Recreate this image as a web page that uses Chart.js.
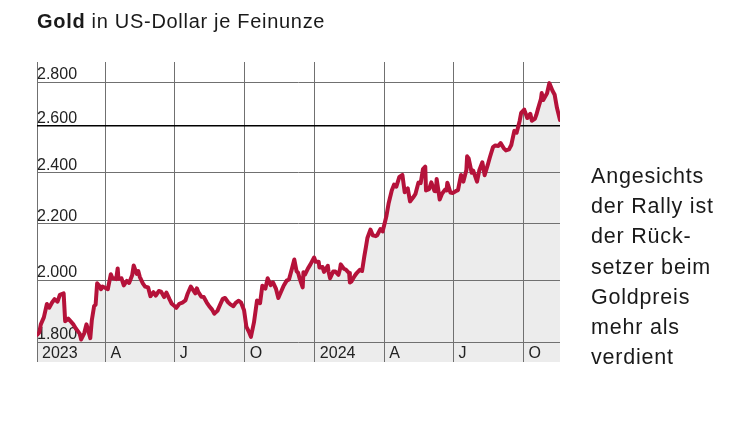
<!DOCTYPE html>
<html><head><meta charset="utf-8">
<script src="https://cdn.jsdelivr.net/npm/chart.js@4.4.1/dist/chart.umd.min.js"></script>
<style>
html,body{margin:0;padding:0;background:#fff;}
body{width:750px;height:421px;position:relative;overflow:hidden;font-family:"Liberation Sans",Arial,sans-serif;color:#1a1a1a;}
#wrap{position:absolute;left:0;top:0;width:750px;height:421px;}
#title{position:absolute;left:37px;top:9px;font-size:20px;line-height:24px;letter-spacing:0.7px;white-space:nowrap;}
#note{position:absolute;left:591px;top:161px;font-size:21.5px;line-height:30.2px;letter-spacing:0.8px;white-space:nowrap;}
</style></head><body>
<div id="wrap"><canvas id="c" width="750" height="421"></canvas></div>
<div id="title"><b>Gold</b> in US-Dollar je Feinunze</div>
<div id="note">Angesichts<br>der Rally ist<br>der Rück-<br>setzer beim<br>Goldpreis<br>mehr als<br>verdient</div>
<script>
const dates = [
'2023-01-01','2023-01-04','2023-01-06','2023-01-08','2023-01-10','2023-01-14','2023-01-17','2023-01-21','2023-01-24','2023-01-28','2023-01-31',
'2023-02-05','2023-02-07','2023-02-11','2023-02-14','2023-02-18','2023-02-21','2023-02-26','2023-02-28','2023-03-04',
'2023-03-07','2023-03-12','2023-03-14','2023-03-17','2023-03-19','2023-03-21','2023-03-24','2023-03-26','2023-03-28','2023-04-01','2023-04-04',
'2023-04-08','2023-04-10','2023-04-15','2023-04-17','2023-04-18','2023-04-22','2023-04-25','2023-04-29','2023-05-02',
'2023-05-06','2023-05-08','2023-05-12','2023-05-14','2023-05-16','2023-05-20','2023-05-23','2023-05-27','2023-05-30','2023-06-03',
'2023-06-06','2023-06-10','2023-06-13','2023-06-17','2023-06-20','2023-06-24','2023-06-27','2023-07-01','2023-07-03',
'2023-07-07','2023-07-11','2023-07-15','2023-07-18','2023-07-22','2023-07-24','2023-07-28','2023-07-30','2023-08-01',
'2023-08-05','2023-08-08','2023-08-12','2023-08-15','2023-08-19','2023-08-22','2023-08-26','2023-08-29','2023-09-02',
'2023-09-05','2023-09-09','2023-09-12','2023-09-16','2023-09-19','2023-09-23','2023-09-26','2023-09-30','2023-10-03',
'2023-10-07','2023-10-09','2023-10-13','2023-10-17','2023-10-21','2023-10-24','2023-10-28','2023-10-31','2023-11-04',
'2023-11-07','2023-11-11','2023-11-14','2023-11-18','2023-11-21','2023-11-25','2023-11-28','2023-12-02',
'2023-12-05','2023-12-08','2023-12-10','2023-12-12','2023-12-16','2023-12-17','2023-12-19','2023-12-23','2023-12-26','2023-12-31',
'2024-01-02','2024-01-06','2024-01-07','2024-01-11','2024-01-13','2024-01-14','2024-01-18','2024-01-19','2024-01-21','2024-01-25','2024-01-28',
'2024-02-01','2024-02-03','2024-02-04','2024-02-08','2024-02-11','2024-02-15','2024-02-16','2024-02-18','2024-02-22','2024-02-25','2024-02-29',
'2024-03-03','2024-03-06','2024-03-08','2024-03-10','2024-03-14','2024-03-17','2024-03-21','2024-03-23','2024-03-27','2024-03-30',
'2024-04-04','2024-04-07','2024-04-11','2024-04-14','2024-04-17','2024-04-21','2024-04-25','2024-04-28','2024-05-02',
'2024-05-05','2024-05-09','2024-05-12','2024-05-16','2024-05-19','2024-05-22','2024-05-25','2024-05-26','2024-05-30','2024-06-02',
'2024-06-06','2024-06-08','2024-06-09','2024-06-13','2024-06-16','2024-06-20','2024-06-22','2024-06-23','2024-06-27','2024-06-30',
'2024-07-04','2024-07-07','2024-07-11','2024-07-14','2024-07-18','2024-07-19','2024-07-21','2024-07-25','2024-07-27','2024-08-01',
'2024-08-04','2024-08-08','2024-08-11','2024-08-15','2024-08-18','2024-08-22','2024-08-25','2024-08-29','2024-09-01',
'2024-09-05','2024-09-08','2024-09-12','2024-09-15','2024-09-19','2024-09-22','2024-09-26','2024-09-28','2024-10-02',
'2024-10-06','2024-10-10','2024-10-12','2024-10-16','2024-10-18','2024-10-20','2024-10-24','2024-10-25','2024-10-27','2024-11-01',
'2024-11-04','2024-11-08','2024-11-11','2024-11-14','2024-11-18'
];
const prices = [
1822,1830,1855,1866,1877,1920,1908,1926,1936,1928,1950,
1955,1865,1873,1865,1854,1842,1826,1808,1827,
1855,1812,1868,1913,1918,1989,1980,1969,1978,1973,1969,
2020,2007,2003,2040,2004,2006,1982,1997,1990,
2016,2050,2021,2031,2011,1989,1978,1975,1946,1959,
1948,1963,1961,1943,1958,1936,1921,1913,1908,
1921,1925,1932,1955,1978,1970,1955,1972,1959,
1944,1943,1925,1914,1902,1889,1898,1915,1937,
1940,1926,1919,1913,1924,1931,1925,1900,1848,
1828,1816,1861,1932,1923,1981,1971,2006,1983,
1992,1970,1940,1963,1981,1998,2002,2040,
2071,2030,2025,2005,1975,2027,2019,2040,2053,2078,2063,
2063,2043,2045,2028,2028,2049,2028,2006,2029,2029,2018,
2037,2054,2039,2035,2024,1992,1995,2013,2024,2035,2031,
2083,2114,2148,2179,2158,2155,2159,2181,2172,2230,
2280,2329,2352,2344,2383,2391,2322,2337,2286,
2301,2314,2360,2358,2415,2425,2329,2334,2361,2327,
2326,2375,2293,2316,2332,2329,2360,2321,2319,2326,
2330,2391,2364,2411,2468,2459,2400,2409,2364,2410,
2443,2390,2431,2465,2507,2514,2512,2524,2503,
2493,2497,2516,2577,2569,2621,2657,2672,2634,
2653,2622,2630,2649,2674,2721,2748,2716,2747,2795,
2760,2740,2680,2625,2600
];
const tickDates = ['2023-01-01','2023-04-01','2023-07-01','2023-10-01','2024-01-01','2024-04-01','2024-07-01','2024-10-01'];
const tickLabels = ['2023','A','J','O','2024','A','J','O'];
const yTicks = [1800,2000,2200,2400,2600,2800];

const origin = Date.UTC(2023,0,1);
const dayOf = s => { const [y,m,d] = s.split('-').map(Number); return Math.round((Date.UTC(y,m-1,d)-origin)/86400000); };
const points = dates.map((d,i)=>({x:dayOf(d), y:prices[i]}));
const tickDays = tickDates.map(dayOf);
const fmt = v => String(v).replace(/\B(?=(\d{3})+(?!\d))/g,'.');
const FONT = '"Liberation Sans", Arial, sans-serif';
const GRID = '#707070';

new Chart(document.getElementById('c'), {
  type:'line',
  data:{datasets:[{data:points, borderColor:'#b5123a', borderWidth:4, pointRadius:0,
    fill:'start', backgroundColor:'#ececec', tension:0, borderJoinStyle:'round', borderCapStyle:'round'}]},
  options:{
    responsive:false, animation:false, devicePixelRatio:1,
    layout:{padding:{left:37, right:190, top:62, bottom:59}},
    plugins:{legend:{display:false}, tooltip:{enabled:false}, filler:{drawTime:'beforeDraw'}},
    scales:{
      x:{type:'linear', min:0, max:dayOf('2024-11-18'),
        border:{display:false},
        grid:{color:GRID, lineWidth:1, drawTicks:false},
        ticks:{autoSkip:false, maxRotation:0, minRotation:0, mirror:true, align:'start', labelOffset:5, padding:0,
          font:{family:FONT, size:16, lineHeight:'16px'}, color:'#222', callback:(v,i)=>tickLabels[i]},
        afterBuildTicks:s=>{ s.ticks = tickDays.map(v=>({value:v})); }
      },
      y:{type:'logarithmic', min:1740, max:2897, position:'left',
        border:{display:false},
        grid:{drawTicks:false, color:c=>(c.tick && c.tick.value===2600)?'#000':GRID,
          lineWidth:c=>(c.tick && c.tick.value===2600)?1.6:1},
        ticks:{mirror:true, padding:0, labelOffset:-7.5, autoSkip:false,
          font:{family:FONT, size:16}, color:'#222', callback:v=>fmt(v)},
        afterBuildTicks:s=>{ s.ticks = yTicks.map(v=>({value:v})); }
      }
    }
  }
});
</script>
</body></html>
